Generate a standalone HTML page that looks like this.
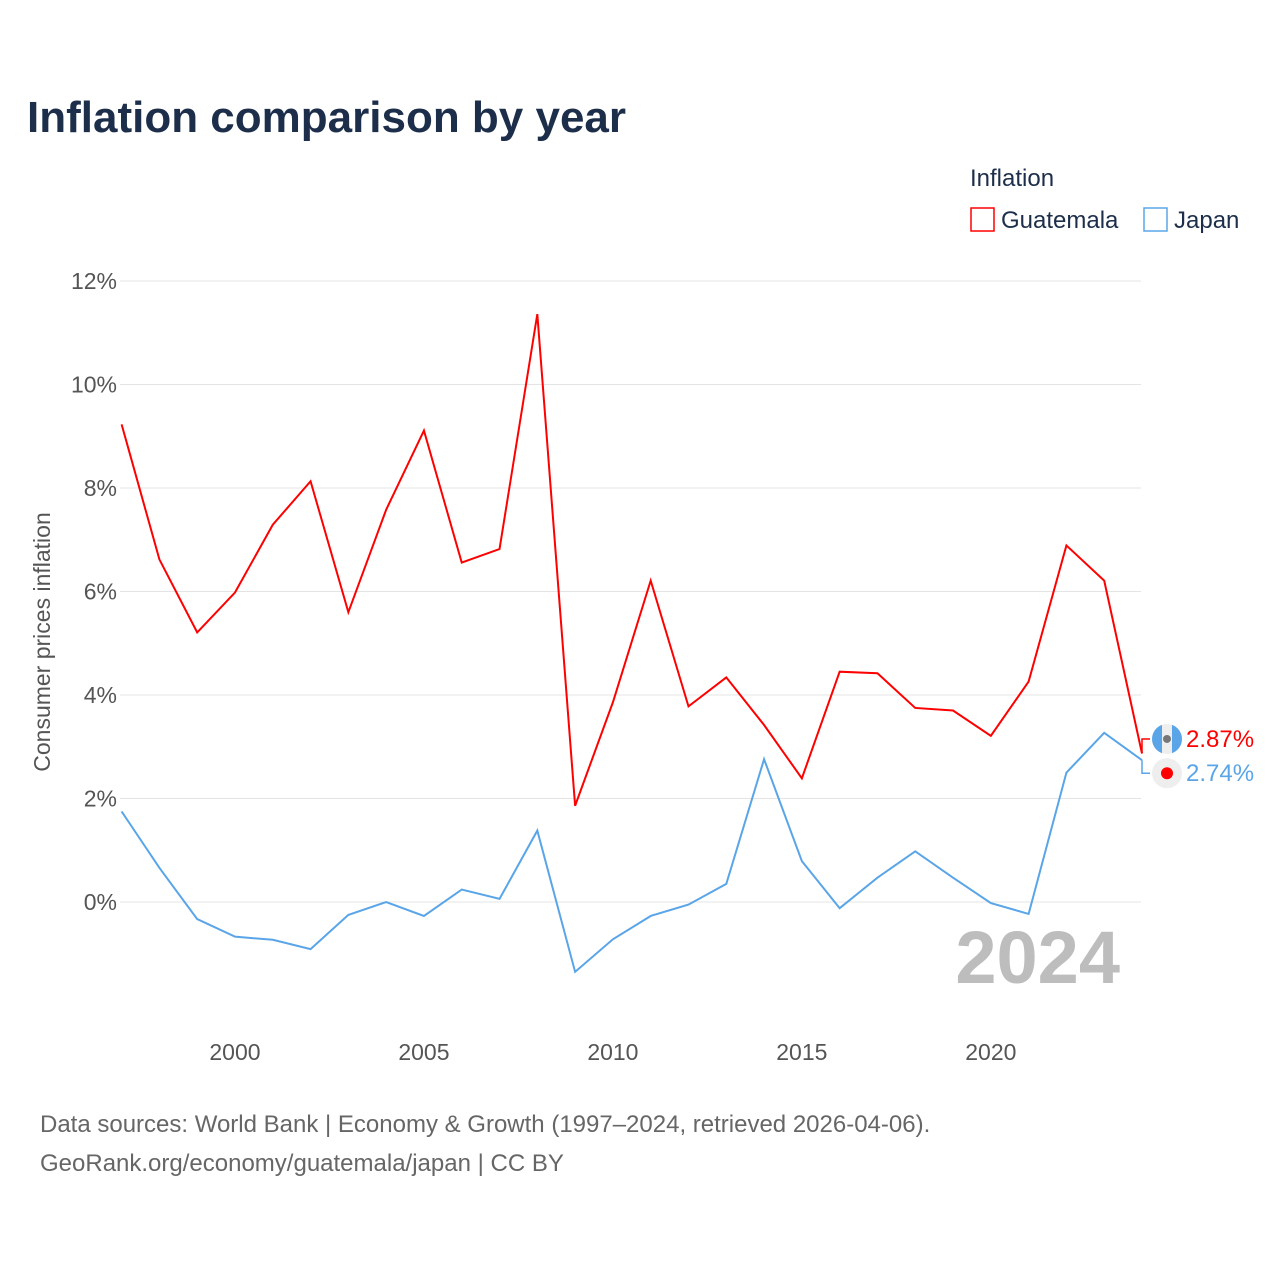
<!DOCTYPE html>
<html><head><meta charset="utf-8"><style>
body{margin:0;background:#fff;font-family:"Liberation Sans",sans-serif;}
</style></head><body>
<svg width="1280" height="1280" xmlns="http://www.w3.org/2000/svg" style="font-family:'Liberation Sans',sans-serif">
<defs><clipPath id="fc"><circle id="fcc" cx="1167" cy="739" r="15"/></clipPath></defs>
<text x="27" y="132" font-size="44" font-weight="bold" fill="#1c2e4a">Inflation comparison by year</text>
<text x="970" y="186" font-size="24" fill="#1c2e4a">Inflation</text>
<g><rect x="971" y="208" width="23" height="23" fill="none" stroke="#ff0000" stroke-width="1.5"/><text x="1001" y="228" font-size="24" fill="#1c2e4a">Guatemala</text></g>
<g><rect x="1144" y="208" width="23" height="23" fill="none" stroke="#5aa5e8" stroke-width="1.5"/><text x="1174" y="228" font-size="24" fill="#1c2e4a">Japan</text></g>
<text transform="translate(50,642) rotate(-90)" text-anchor="middle" font-size="23" fill="#555">Consumer prices inflation</text>
<g id="grid"></g><g id="xt"></g>
<text x="1120" y="983" text-anchor="end" font-size="74" font-weight="bold" fill="#bdbdbd">2024</text>
<g id="series"></g>
<text x="40" y="1132" font-size="24" fill="#666">Data sources: World Bank | Economy &amp; Growth (1997–2024, retrieved 2026-04-06).</text>
<text x="40" y="1171" font-size="24" fill="#666">GeoRank.org/economy/guatemala/japan | CC BY</text>
</svg>
<script>
const years=[1997,1998,1999,2000,2001,2002,2003,2004,2005,2006,2007,2008,2009,2010,2011,2012,2013,2014,2015,2016,2017,2018,2019,2020,2021,2022,2023,2024];
const guatemala=[9.23,6.62,5.21,5.98,7.29,8.13,5.6,7.58,9.11,6.56,6.82,11.36,1.86,3.86,6.21,3.78,4.34,3.42,2.39,4.45,4.42,3.75,3.7,3.21,4.26,6.89,6.21,2.87];
const japan=[1.75,0.66,-0.33,-0.67,-0.73,-0.91,-0.25,0.0,-0.27,0.24,0.06,1.38,-1.35,-0.72,-0.27,-0.05,0.35,2.76,0.79,-0.12,0.47,0.98,0.47,-0.02,-0.23,2.5,3.27,2.74];
const yTicks=[0,2,4,6,8,10,12];
const xTicks=[2000,2005,2010,2015,2020];
const NS="http://www.w3.org/2000/svg";
const X=y=>121.6+(y-1997)*(1142-121.6)/27;
const Y=v=>902-v*51.75;
function mk(t,a,p){const e=document.createElementNS(NS,t);for(const k in a)e.setAttribute(k,a[k]);p.appendChild(e);return e;}
const grid=document.getElementById('grid');
yTicks.forEach(v=>{
 const l=mk('line',{x1:120,x2:1141,y1:Y(v),y2:Y(v),stroke:'#e4e4e4','stroke-width':1},grid);
 
 
 const t=mk('text',{x:117,y:Y(v)+8,'text-anchor':'end','font-size':23,fill:'#555'},grid);
 t.textContent=v+'%';
 
 
});
const xt=document.getElementById('xt');
xTicks.forEach(v=>{
 const t=mk('text',{x:X(v),y:1060,'text-anchor':'middle','font-size':23,fill:'#555'},xt);
 t.textContent=v;
 
 
});
const s=document.getElementById('series');
function line(vals,col,name){
 const p=mk('polyline',{points:vals.map((v,i)=>X(years[i])+','+Y(v)).join(' '),fill:'none',stroke:col,'stroke-width':2},s);
 
 
}
line(guatemala,'#ff0000','guatemala-line');
line(japan,'#5aa5e8','japan-line');
const gl=guatemala[guatemala.length-1], jl=japan[japan.length-1];
const ly1=Y(gl)-14.5, ly2=Y(jl)+13;
document.getElementById('fcc').setAttribute('cy',ly1);
mk('polyline',{points:`1142,${Y(gl)} 1142,${ly1} 1150,${ly1}`,fill:'none',stroke:'#ff0000','stroke-width':1.5},s);
mk('polyline',{points:`1142,${Y(jl)} 1142,${ly2} 1150,${ly2}`,fill:'none',stroke:'#5aa5e8','stroke-width':1.5},s);
const f1=mk('g',{'clip-path':'url(#fc)'},s);


mk('rect',{x:1152,y:ly1-15,width:30,height:30,fill:'#eee'},f1);
mk('rect',{x:1152,y:ly1-15,width:10,height:30,fill:'#5aa5e8'},f1);
mk('rect',{x:1172,y:ly1-15,width:10,height:30,fill:'#5aa5e8'},f1);
mk('circle',{cx:1167,cy:ly1,r:4,fill:'#777'},f1);
const f2=mk('circle',{cx:1167,cy:ly2,r:15,fill:'#eee'},s);


mk('circle',{cx:1167,cy:ly2,r:6,fill:'#ff0000'},s);
const t1=mk('text',{x:1186,y:ly1+8,'font-size':24,fill:'#ff0000'},s);
t1.textContent=gl.toFixed(2)+'%';


const t2=mk('text',{x:1186,y:ly2+8,'font-size':24,fill:'#5aa5e8'},s);
t2.textContent=jl.toFixed(2)+'%';


</script>
</body></html>
